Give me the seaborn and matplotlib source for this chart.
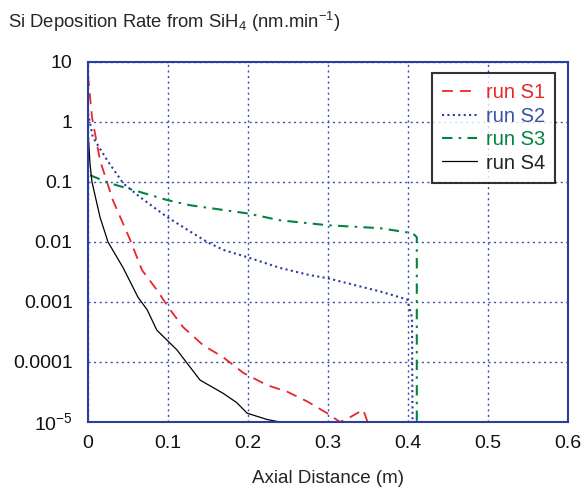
import numpy as np
import pandas as pd
import matplotlib
matplotlib.use("Agg")
import matplotlib.pyplot as plt
import seaborn as sns

sns.set_theme(style="white")
plt.rcParams['font.family'] = ['Liberation Sans', 'DejaVu Sans']
plt.rcParams['mathtext.fontset'] = 'custom'
plt.rcParams['mathtext.rm'] = 'Liberation Sans'

# Data
s1_x = [0.0, 0.005, 0.015, 0.031, 0.0525, 0.0675, 0.0875, 0.1, 0.119, 0.144, 0.169, 0.194,
        0.224, 0.249, 0.274, 0.299, 0.315, 0.3275, 0.344, 0.352]
s1_y = [6.0, 1.2, 0.23, 0.05, 0.011, 0.0034, 0.0015, 0.00083, 0.00038, 0.00019, 0.00012, 6.6e-5,
        4.1e-5, 3.2e-5, 2.2e-5, 1.4e-5, 1.0e-5, 1.2e-5, 1.6e-5, 8e-6]

s2_x = [0.0, 0.006, 0.024, 0.044, 0.065, 0.099, 0.1275, 0.149, 0.169, 0.2025, 0.24, 0.2775,
        0.299, 0.365, 0.399, 0.405, 0.406]
s2_y = [1.4, 0.56, 0.23, 0.095, 0.056, 0.026, 0.015, 0.01, 0.0074, 0.0054, 0.0037, 0.0028,
        0.0025, 0.0015, 0.0011, 0.00055, 1e-6]

s3_x = [0.0025, 0.0275, 0.056, 0.099, 0.1275, 0.199, 0.24, 0.3, 0.365, 0.406, 0.411, 0.411]
s3_y = [0.13, 0.095, 0.074, 0.05, 0.041, 0.030, 0.023, 0.019, 0.017, 0.014, 0.012, 1e-6]

s4_x = [0.0, 0.0025, 0.005, 0.015, 0.025, 0.044, 0.0625, 0.074, 0.086, 0.111, 0.14, 0.169,
        0.186, 0.199, 0.224, 0.24]
s4_y = [0.73, 0.2, 0.1, 0.026, 0.01, 0.0037, 0.0012, 0.00074, 0.00034, 0.00016, 5e-5, 3e-5,
        2.1e-5, 1.4e-5, 1.1e-5, 1.0e-5]

labels = ["run S1", "run S2", "run S3", "run S4"]
x_ticks = [0, 0.1, 0.2, 0.3, 0.4, 0.5, 0.6]
x_tick_labels = ["0", "0.1", "0.2", "0.3", "0.4", "0.5", "0.6"]
y_ticks = [1e-5, 1e-4, 1e-3, 1e-2, 1e-1, 1, 10]
y_tick_labels = ["10$^{-5}$", "0.0001", "0.001", "0.01", "0.1", "1", "10"]

colors = ["#e8262b", "#2b3d9e", "#00853f", "#000000"]
text_colors = ["#e8262b", "#3a52a8", "#00853f", "#222222"]
styles = [dict(dashes=(6, 4), lw=1.3), dict(dashes=(1, 1.6), lw=1.5),
          dict(dashes=(5, 3, 1.2, 3), lw=1.5), dict(lw=0.9)]

fig = plt.figure(figsize=(5.83, 4.93), dpi=100)
ax = fig.add_axes([88/583, 1-422/493, 480/583, 360/493])

series = [(s1_x, s1_y), (s2_x, s2_y), (s3_x, s3_y), (s4_x, s4_y)]
for (xs, ys), lab, c, st in zip(series, labels, colors, styles):
    df = pd.DataFrame({"x": xs, "y": ys})
    sns.lineplot(data=df, x="x", y="y", ax=ax, label=lab, sort=False,
                 estimator=None, color=c, linewidth=st["lw"])
    if "dashes" in st:
        ax.lines[-1].set_dashes(st["dashes"])

ax.set_yscale("log")
ax.set_xlim(0, 0.6)
ax.set_ylim(1e-5, 10)
ax.set_xticks(x_ticks)
ax.set_xticklabels(x_tick_labels)
ax.set_yticks(y_ticks)
ax.set_yticklabels(y_tick_labels)
ax.minorticks_off()
ax.tick_params(axis="both", labelsize=14, colors="#2b3d9e", labelcolor="#111111",
               direction="in", length=4)
ax.tick_params(axis="y", pad=11)
ax.tick_params(axis="x", pad=9)
ax.grid(True, color="#3a4fa8", linestyle=(0, (1.5, 2.5)), linewidth=1)
for sp in ax.spines.values():
    sp.set_color("#2b3d9e")
    sp.set_linewidth(1.5)

ax.set_xlabel("Axial Distance (m)", fontsize=13.5, labelpad=13)
ax.set_ylabel("")
fig.text(8/583, 1-22/493, "Si Deposition Rate from SiH$_4$ (nm.min$^{-1}$)",
         fontsize=13.3, ha="left", va="center")

leg = ax.legend(loc="upper right", bbox_to_anchor=(0.973, 0.969), fontsize=14.5,
                frameon=True, fancybox=False, handlelength=1.7, handletextpad=0.45,
                borderpad=0.5, labelspacing=0.22, borderaxespad=0)
leg.get_frame().set_edgecolor("black")
leg.get_frame().set_linewidth(1.5)
for t, c in zip(leg.get_texts(), text_colors):
    t.set_color(c)
for h, st in zip(leg.get_lines(), styles):
    if "dashes" in st:
        h.set_dashes(st["dashes"])

fig.savefig("out.png", dpi=100)
